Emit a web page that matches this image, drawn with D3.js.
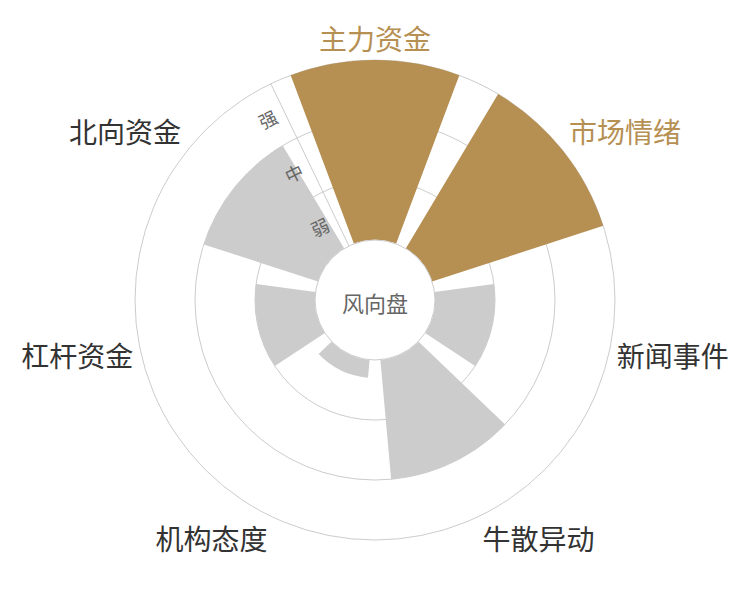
<!DOCTYPE html>
<html>
<head>
<meta charset="utf-8">
<script src="https://cdn.jsdelivr.net/npm/d3@7"></script>
<style>
    body { margin: 0; background: #fff; }
    text { font-family: "Noto Sans CJK SC", "Noto Sans", sans-serif; }
</style>
</head>
<body>
<svg class="wind-chart"></svg>
<script>
// categories around the dial, clockwise from the top
const categories = ['主力资金', '市场情绪', '新闻事件', '牛散异动', '机构态度', '杠杆资金', '北向资金'];
// strength of each category (0 = none, 3 = 强)
const values = [3, 3, 1, 2, 0.3, 1, 2];
// categories drawn in the highlight colour
const highlighted = ['主力资金', '市场情绪'];
// radius axis levels
const levels = ['弱', '中', '强'];
const centerLabel = '风向盘';

drawChart();

function drawChart() {
    let svgWidth = 750, svgHeight = 600;
    let cx = 375, cy = 300;
    let innerRadius = 60, outerRadius = 240;
    let gold = '#b68f52', grey = '#cccccc', lineColor = '#cccccc';

    let svg = d3.select('.wind-chart')
        .attr('width', svgWidth)
        .attr('height', svgHeight);

    let g = svg.append('g')
        .attr('transform', 'translate(' + cx + ',' + cy + ')');

    let slot = 2 * Math.PI / categories.length;
    let startAngle = -slot / 2;

    let angle = d3.scaleBand()
        .domain(categories)
        .range([startAngle, startAngle + 2 * Math.PI])
        .paddingInner(0.2)
        .paddingOuter(0.1);

    let radius = d3.scaleLinear()
        .domain([0, levels.length])
        .range([innerRadius, outerRadius]);

    // rings at level boundaries
    g.selectAll('.ring')
        .data(d3.range(1, levels.length + 1))
        .enter().append('circle')
        .attr('class', 'ring')
        .attr('r', d => radius(d))
        .attr('fill', 'none')
        .attr('stroke', lineColor)
        .attr('stroke-width', 1);

    // radius axis line
    g.append('line')
        .attr('x1', innerRadius * Math.sin(startAngle))
        .attr('y1', -innerRadius * Math.cos(startAngle))
        .attr('x2', outerRadius * Math.sin(startAngle))
        .attr('y2', -outerRadius * Math.cos(startAngle))
        .attr('stroke', lineColor)
        .attr('stroke-width', 1);

    let arc = d3.arc()
        .innerRadius(innerRadius)
        .outerRadius(d => radius(d.value))
        .startAngle(d => angle(d.name))
        .endAngle(d => angle(d.name) + angle.bandwidth());

    let data = categories.map((c, i) => ({ name: c, value: values[i] }));

    g.selectAll('.bar')
        .data(data)
        .enter().append('path')
        .attr('class', 'bar')
        .attr('fill', d => highlighted.includes(d.name) ? gold : grey)
        .attr('d', arc);

    // level labels along the radius axis, rotated with it
    let deg = startAngle * 180 / Math.PI;
    g.selectAll('.level')
        .data(levels)
        .enter().append('text')
        .attr('class', 'level')
        .attr('transform', (d, i) => {
            let r = radius(i + 0.5);
            let x = r * Math.sin(startAngle) - 18 * Math.cos(startAngle);
            let y = -r * Math.cos(startAngle) - 18 * Math.sin(startAngle);
            return 'translate(' + x + ',' + y + ') rotate(' + deg + ')';
        })
        .attr('text-anchor', 'middle')
        .attr('dominant-baseline', 'central')
        .attr('fill', '#666')
        .attr('font-size', 18)
        .text(d => d);

    // category labels outside the dial
    let labelRadius = outerRadius + 8;
    g.selectAll('.cat')
        .data(data)
        .enter().append('text')
        .attr('class', 'cat')
        .each(function (d) {
            let a = angle(d.name) + angle.bandwidth() / 2;
            let x = labelRadius * Math.sin(a);
            let y = -labelRadius * Math.cos(a);
            let anchor = Math.abs(x) / outerRadius < 0.3 ? 'middle' : (x > 0 ? 'start' : 'end');
            let dy = Math.abs(y) / outerRadius < 0.3 ? 0 : (y > 0 ? 15 : -14);
            d3.select(this)
                .attr('x', x)
                .attr('y', y + dy)
                .attr('text-anchor', anchor);
        })
        .attr('dominant-baseline', 'central')
        .attr('font-size', 28)
        .attr('fill', d => highlighted.includes(d.name) ? gold : '#333')
        .text(d => d.name);

    // centre disc
    g.append('circle')
        .attr('r', innerRadius)
        .attr('fill', '#fff')
        .attr('stroke', lineColor)
        .attr('stroke-width', 1);

    g.append('text')
        .attr('text-anchor', 'middle')
        .attr('dominant-baseline', 'central')
        .attr('y', 2)
        .attr('font-size', 22)
        .attr('fill', '#666')
        .text(centerLabel);
}
</script>
</body>
</html>
